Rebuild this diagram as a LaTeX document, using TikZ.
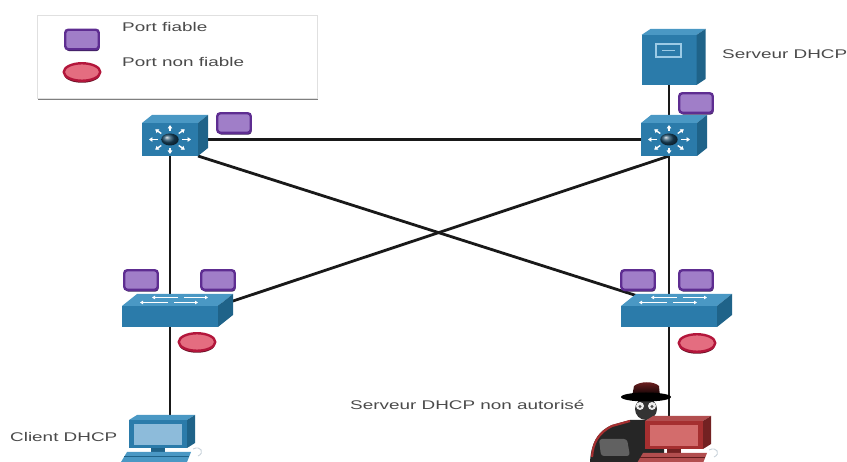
\documentclass[tikz,border=0pt]{standalone}
\usepackage{fontspec}
\newfontfamily\labelfont[FakeStretch=1.5]{Liberation Sans}
\usetikzlibrary{arrows.meta, positioning, shadows, shapes.geometric}

\definecolor{PortPurple}{HTML}{5E2D91}
\definecolor{PortLilac}{HTML}{A07EC8}
\definecolor{PortRed}{HTML}{B3163B}
\definecolor{PortPink}{HTML}{E46D80}
\definecolor{CiscoFront}{HTML}{2B7BAA}
\definecolor{CiscoTop}{HTML}{4A98C4}
\definecolor{CiscoSide}{HTML}{1F6389}
\definecolor{CiscoBall}{HTML}{1C4A66}
\definecolor{IconBlue}{HTML}{9CCBE6}
\definecolor{ScreenBlue}{HTML}{8DBBDA}
\definecolor{MouseGray}{HTML}{C8D2DA}
\definecolor{RogueRed}{HTML}{A52F30}
\definecolor{RogueScreen}{HTML}{D36C6C}
\definecolor{LabelGray}{HTML}{4A4A4A}

\tikzset{
  trusted/.style={draw=PortPurple, fill=PortLilac, line width=2.4pt, rounded corners=3pt, minimum width=33.5pt, minimum height=19.5pt, inner sep=0pt,
    drop shadow={shadow xshift=0.8pt, shadow yshift=-1.8pt, opacity=1, fill=PortPurple!60!black}},
  untrusted/.style={ellipse, draw=PortRed, fill=PortPink, line width=2.4pt, minimum width=36.5pt, minimum height=17.5pt, inner sep=0pt,
    drop shadow={shadow xshift=0pt, shadow yshift=-2pt, opacity=1, fill=PortRed!55!black}},
  device/.style={inner sep=0pt, outer sep=0pt},
  devlabel/.style={font=\labelfont\fontsize{12.6}{15}\selectfont, text=LabelGray, inner sep=0pt},
  wire/.style={line width=2.8pt, draw=black!90},
  cubefront/.style={fill=CiscoFront},
  cubetop/.style={fill=CiscoTop},
  cubeside/.style={fill=CiscoSide},
  pcscreen/.style={fill=ScreenBlue},
  pcline/.style={draw=CiscoSide},
  % box seen from the front: width, height, depth x, depth y
  pics/cube/.style n args={4}{code={
    \fill[cubefront] (-#1/2,-#2/2) rectangle (#1/2,#2/2);
    \fill[cubetop] (-#1/2,-#2/2) -- ++(#3,-#4) -- ++(#1,0) -- (#1/2,-#2/2) -- cycle;
    \fill[cubeside] (#1/2,-#2/2) -- ++(#3,-#4) -- ++(0,#2) -- (#1/2,#2/2) -- cycle;
  }},
  pics/mlswitch/.style={code={
    \pic {cube={56}{33}{10}{8}};
    \begin{scope}[xscale=1.45]
      \foreach \a in {0,45,...,315}
        \draw[white, line width=1.4pt, -{Triangle[length=3.5pt, width=4.5pt]}] (\a:8.5) -- (\a:14.5);
      \shade[ball color=CiscoBall] (0,0) circle[radius=6];
    \end{scope}
  }},
  pics/server/.style={code={
    \pic {cube={55}{50}{9}{6}};
    \draw[IconBlue, line width=1.3pt] (-13,-16) rectangle (12,-3);
    \draw[IconBlue, line width=1.3pt] (-7,-9.5) -- (6,-9.5);
  }},
  pics/l2switch/.style={code={
    \pic {cube={96}{21}{15}{12}};
    \foreach \y/\xa/\xb in {-19/8/-18, -19/14/38, -14/-2/-30, -14/4/28}
      \draw[white, line width=1pt, -{Triangle[length=3pt, width=3.5pt]}] (\xa,\y) -- (\xb,\y);
  }},
  pics/pc/.style={code={
    \pic {cube={58}{28}{8}{5}};
    \fill[pcscreen] (-24,-10) rectangle (24,11);
    \fill[cubeside] (-7,14) rectangle (7,18);
    \fill[cubetop] (-37,28) -- (-31,18) -- (33,18) -- (29,28) -- cycle;
    \draw[pcline, line width=1pt] (-34,23) -- (31,23);
    \draw[MouseGray, line width=0.9pt] (35,15) .. controls (43,11) and (47,19) .. (40,22);
  }}
}

\begin{document}
\begin{tikzpicture}[x=1pt, y=-1pt,
  legendbox/.style={draw=black!12, fill=white, minimum width=280pt, minimum height=83pt,
    drop shadow={shadow xshift=0pt, shadow yshift=-2.5pt, opacity=0.5, fill=black}}
]
\useasboundingbox (0,0) rectangle (847,462);

% legend
\node[legendbox] (legend) at (177.5,56.5) {};
\node[trusted] (legTrusted) at (82,39.5) {};
\node[untrusted] (legUntrusted) at (82,72) {};
\node[devlabel, anchor=west] (legTrustedTxt) at (122,27) {Port fiable};
\node[devlabel, anchor=west] (legUntrustedTxt) at (122,62) {Port non fiable};

% devices (front faces)
\node[device, minimum width=56pt, minimum height=33pt] (coreL) at (170,139.5) {};
\node[device, minimum width=56pt, minimum height=33pt] (coreR) at (669,139.5) {};
\node[device, minimum width=55pt, minimum height=50pt] (srv) at (669,60) {};
\node[device, minimum width=96pt, minimum height=21pt] (accL) at (170,316.5) {};
\node[device, minimum width=96pt, minimum height=21pt] (accR) at (669,316.5) {};
\node[device, minimum width=20pt, minimum height=28pt] (client) at (170,434) {};
\node[device, minimum width=20pt, minimum height=30pt] (rogue) at (669,435) {};

% links
\draw[wire] (coreL) -- (coreR);
\draw[wire] (srv) -- (coreR);
\draw[wire] (coreL) -- (accL);
\draw[wire] (coreR) -- (accR);
\draw[wire] (coreL.south east) -- (accR.north);
\draw[wire] (coreR.south) -- (accL.north east);
\draw[wire] (accL) -- (client);
\draw[wire] (accR) -- (rogue);

% device icons
\pic at (srv) {server};
\pic at (coreL) {mlswitch};
\pic at (coreR) {mlswitch};
\pic at (accL) {l2switch};
\pic at (accR) {l2switch};
\pic at (158,434) {pc};

% intruder behind the rogue machine
\fill[black!85] (590,462) .. controls (591,445) and (596,432) .. (612,425) -- (630,420)
  -- (664,420) -- (664,462) -- cycle;
\draw[RogueRed, line width=2.2pt] (592,457) .. controls (593,443) and (598,433) .. (612,426) -- (630,421);
\fill[black!62, rounded corners=3pt] (599,439) -- (627,439) -- (630,456) -- (601,456) -- cycle;
\fill[black!80] (646,409) ellipse[x radius=11, y radius=11];
\fill[white!85!gray] (640,406) circle[radius=4];
\fill[white!85!gray] (652,406) circle[radius=4];
\fill[black!70] (640,406.5) circle[radius=1.6];
\fill[black!70] (652,406.5) circle[radius=1.6];
\shade[top color=RogueRed!70!black, bottom color=black] (632,397) -- (634,386)
  .. controls (640,381) and (654,381) .. (659,386) -- (660,397) -- cycle;
\fill[black] (646,397) ellipse[x radius=25, y radius=4.5];
\pic[cubefront/.style={fill=RogueRed}, cubetop/.style={fill=RogueRed!85!white},
  cubeside/.style={fill=RogueRed!70!black}, pcscreen/.style={fill=RogueScreen},
  pcline/.style={draw=RogueRed!60!black}] at (674,435) {pc};

% port states
\node[trusted] (trustCoreL) at (234,123) {};
\node[trusted] (trustSrv) at (696,103) {};
\node[trusted] (trustAccL1) at (141,280) {};
\node[trusted] (trustAccL2) at (218,280) {};
\node[trusted] (trustAccR1) at (638,280) {};
\node[trusted] (trustAccR2) at (696,280) {};
\node[untrusted] (untrustAccL) at (197,342) {};
\node[untrusted] (untrustAccR) at (697,343) {};

% labels
\node[devlabel, anchor=west] (srvTxt) at (722,54) {Serveur DHCP};
\node[devlabel, anchor=west] (clientTxt) at (10,437) {Client DHCP};
\node[devlabel, anchor=west] (rogueTxt) at (350,405) {Serveur DHCP non autorisé};
\end{tikzpicture}
\end{document}
